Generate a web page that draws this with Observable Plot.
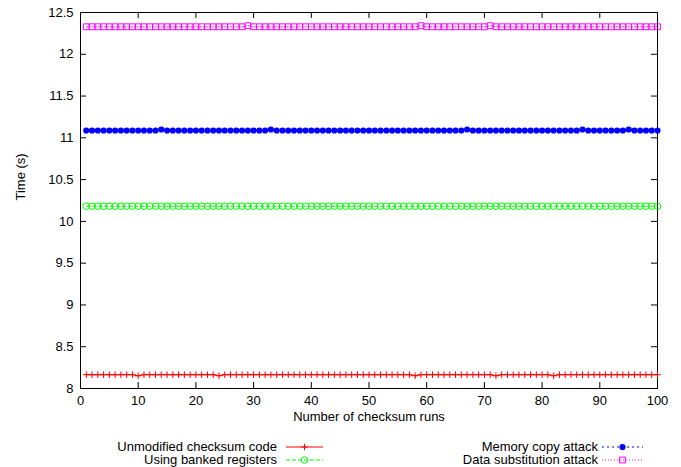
<!DOCTYPE html>
<html><head><meta charset="utf-8">
<script src="https://cdn.jsdelivr.net/npm/d3@7"></script>
<script src="https://cdn.jsdelivr.net/npm/@observablehq/plot@0.6"></script>
<style>
body{margin:0;background:#fff;font-family:"Liberation Sans",Arial,sans-serif;}
#wrap{position:relative;width:681px;height:467px;overflow:hidden;}
.lt{position:absolute;font-size:13px;line-height:14px;white-space:nowrap;color:#000;}
.ls{position:absolute;}
</style></head>
<body><div id="wrap"><div id="chart"></div><div id="legend"></div></div>
<script>
const runs = [
  1,2,3,4,5,6,7,8,9,10,
  11,12,13,14,15,16,17,18,19,20,
  21,22,23,24,25,26,27,28,29,30,
  31,32,33,34,35,36,37,38,39,40,
  41,42,43,44,45,46,47,48,49,50,
  51,52,53,54,55,56,57,58,59,60,
  61,62,63,64,65,66,67,68,69,70,
  71,72,73,74,75,76,77,78,79,80,
  81,82,83,84,85,86,87,88,89,90,
  91,92,93,94,95,96,97,98,99,100];

const unmodified = [
  8.165,8.165,8.165,8.165,8.165,8.165,8.165,8.165,8.165,8.152,
  8.165,8.165,8.165,8.165,8.165,8.165,8.165,8.165,8.165,8.165,
  8.165,8.165,8.165,8.152,8.165,8.165,8.165,8.165,8.165,8.165,
  8.165,8.165,8.165,8.165,8.165,8.165,8.165,8.165,8.165,8.165,
  8.165,8.165,8.165,8.165,8.165,8.165,8.165,8.165,8.165,8.165,
  8.165,8.165,8.165,8.165,8.165,8.165,8.165,8.152,8.165,8.165,
  8.165,8.165,8.165,8.165,8.165,8.165,8.165,8.165,8.165,8.165,
  8.165,8.152,8.165,8.165,8.165,8.165,8.165,8.165,8.165,8.165,
  8.165,8.152,8.165,8.165,8.165,8.165,8.165,8.165,8.165,8.165,
  8.165,8.165,8.165,8.165,8.165,8.165,8.165,8.165,8.165,8.165];

const banked = [
  10.182,10.182,10.182,10.182,10.182,10.182,10.182,10.182,10.182,10.182,
  10.182,10.182,10.182,10.182,10.182,10.182,10.182,10.182,10.182,10.182,
  10.182,10.182,10.182,10.182,10.182,10.182,10.182,10.182,10.182,10.182,
  10.182,10.182,10.182,10.182,10.182,10.182,10.182,10.182,10.182,10.182,
  10.182,10.182,10.182,10.182,10.182,10.182,10.182,10.182,10.182,10.182,
  10.182,10.182,10.182,10.182,10.182,10.182,10.182,10.182,10.182,10.182,
  10.182,10.182,10.182,10.182,10.182,10.182,10.182,10.182,10.182,10.182,
  10.182,10.182,10.182,10.182,10.182,10.182,10.182,10.182,10.182,10.182,
  10.182,10.182,10.182,10.182,10.182,10.182,10.182,10.182,10.182,10.182,
  10.182,10.182,10.182,10.182,10.182,10.182,10.182,10.182,10.182,10.182];

const memcopy = [
  11.088,11.088,11.088,11.088,11.088,11.088,11.088,11.088,11.088,11.088,
  11.088,11.088,11.088,11.100,11.088,11.088,11.088,11.088,11.088,11.088,
  11.088,11.088,11.088,11.088,11.088,11.088,11.088,11.088,11.088,11.088,
  11.088,11.088,11.100,11.088,11.088,11.088,11.088,11.088,11.088,11.088,
  11.088,11.088,11.088,11.088,11.088,11.088,11.088,11.088,11.088,11.088,
  11.088,11.088,11.088,11.088,11.088,11.088,11.088,11.088,11.088,11.088,
  11.088,11.088,11.088,11.088,11.088,11.088,11.100,11.088,11.088,11.088,
  11.088,11.088,11.088,11.088,11.088,11.088,11.088,11.088,11.088,11.088,
  11.088,11.088,11.088,11.088,11.088,11.088,11.100,11.088,11.088,11.088,
  11.088,11.088,11.088,11.088,11.100,11.088,11.088,11.088,11.088,11.088];

const datasub = [
  12.329,12.329,12.329,12.329,12.329,12.329,12.329,12.329,12.329,12.329,
  12.329,12.329,12.329,12.329,12.329,12.329,12.329,12.329,12.329,12.329,
  12.329,12.329,12.329,12.329,12.329,12.329,12.329,12.329,12.342,12.329,
  12.329,12.329,12.329,12.329,12.329,12.329,12.329,12.329,12.329,12.329,
  12.329,12.329,12.329,12.329,12.329,12.329,12.329,12.329,12.329,12.329,
  12.329,12.329,12.329,12.329,12.329,12.329,12.329,12.329,12.342,12.329,
  12.329,12.329,12.329,12.329,12.329,12.329,12.329,12.329,12.329,12.329,
  12.342,12.329,12.329,12.329,12.329,12.329,12.329,12.329,12.329,12.329,
  12.329,12.329,12.329,12.329,12.329,12.329,12.329,12.329,12.329,12.329,
  12.329,12.329,12.329,12.329,12.329,12.329,12.329,12.329,12.329,12.329];

const seriesNames = ["Unmodified checksum code","Using banked registers","Memory copy attack","Data substitution attack"];
const xTicks = [0,10,20,30,40,50,60,70,80,90,100];
const yTicks = [8,8.5,9,9.5,10,10.5,11,11.5,12,12.5];
const yTickLabels = ["8","8.5","9","9.5","10","10.5","11","11.5","12","12.5"];
const xLabel = "Number of checksum runs";
const yLabel = "Time (s)";

// styling
const plusSymbol = {draw(ctx, size){const r=Math.sqrt(size/Math.PI);ctx.moveTo(-r,0);ctx.lineTo(r,0);ctx.moveTo(0,-r);ctx.lineTo(0,r);}};
const styles = [
  {color:"#ff0000", dash:null, symbol:plusSymbol, r:3.3, filled:false},
  {color:"#00ff00", dash:"4,2", symbol:"circle", r:3.3, filled:false},
  {color:"#0000ff", dash:"2,3", symbol:"circle", r:3.1, filled:true},
  {color:"#ff00ff", dash:"1,2", symbol:"square", r:3.3, filled:false}
];
const valueArrays = [unmodified, banked, memcopy, datasub];
const series = seriesNames.map((name,k)=>({name, rows: runs.map((r,i)=>({run:r, time:valueArrays[k][i]}))}));

const W=681,H=430,mL=80,mR=24,mT=12,mB=42;
const innerW=W-mL-mR, innerH=H-mT-mB, tk=6;

const marks = [
  Plot.frame({stroke:"#000", strokeWidth:1}),
  Plot.tickX(xTicks,{x:d=>d, insetTop:innerH-tk, stroke:"#000"}),
  Plot.tickX(xTicks,{x:d=>d, insetBottom:innerH-tk, stroke:"#000"}),
  Plot.tickY(yTicks,{y:d=>d, insetRight:innerW-tk, stroke:"#000"}),
  Plot.tickY(yTicks,{y:d=>d, insetLeft:innerW-tk, stroke:"#000"}),
  Plot.axisX(xTicks,{tickSize:0, tickPadding:7, label:null, fill:"#000"}),
  Plot.axisY(yTicks,{tickSize:0, tickPadding:7, label:null, fill:"#000", tickFormat:(d)=>yTickLabels[yTicks.indexOf(d)]}),
  Plot.text([xLabel],{frameAnchor:"bottom", dy:32, fill:"#000", fontSize:13}),
  Plot.text([yLabel],{frameAnchor:"left", dx:-60, rotate:-90, fill:"#000", fontSize:13})
];
series.forEach((s,k)=>{
  const st=styles[k];
  marks.push(Plot.line(s.rows,{x:"run", y:"time", stroke:st.color, strokeWidth:1, strokeDasharray:st.dash||undefined}));
  marks.push(Plot.dot(s.rows,{x:"run", y:"time", symbol:st.symbol, r:st.r,
    fill: st.filled ? st.color : "none", stroke: st.filled ? "none" : st.color, strokeWidth:1}));
});

const chart = Plot.plot({
  width:W, height:H, marginLeft:mL, marginRight:mR, marginTop:mT, marginBottom:mB,
  style:{fontFamily:"'Liberation Sans', Arial, sans-serif", fontSize:"13px", color:"#000", background:"#fff", overflow:"visible"},
  x:{domain:[0,100]}, y:{domain:[8,12.5]},
  marks
});
document.getElementById("chart").appendChild(chart);

// legend (gnuplot two columns)
const legend = document.getElementById("legend");
const legPos = [
  {textRight:277, sx:286, w:37, cy:446.5},
  {textRight:277, sx:286, w:37, cy:460},
  {textRight:598, sx:602, w:41, cy:446.5},
  {textRight:598, sx:602, w:41, cy:460}
];
seriesNames.forEach((name,k)=>{
  const p=legPos[k], st=styles[k];
  const t=document.createElement("div");
  t.className="lt"; t.textContent=name;
  t.style.right=(681-p.textRight)+"px"; t.style.top=(p.cy-7)+"px";
  legend.appendChild(t);
  const w=p.w, h=10, cx=w/2, cy=h/2;
  let marker="";
  if(k===0) marker=`<path d="M${cx-3.3},${cy}H${cx+3.3}M${cx},${cy-3.3}V${cy+3.3}" stroke="${st.color}" fill="none"/>`;
  else if(k===1) marker=`<circle cx="${cx}" cy="${cy}" r="3.3" stroke="${st.color}" fill="none"/>`;
  else if(k===2) marker=`<circle cx="${cx}" cy="${cy}" r="3.1" fill="${st.color}"/>`;
  else marker=`<rect x="${cx-2.9}" y="${cy-2.9}" width="5.8" height="5.8" stroke="${st.color}" fill="none"/>`;
  const svg=`<svg width="${w}" height="${h}" xmlns="http://www.w3.org/2000/svg"><line x1="0" y1="${cy}" x2="${w}" y2="${cy}" stroke="${st.color}" ${st.dash?`stroke-dasharray="${st.dash}"`:""}/>${marker}</svg>`;
  const d=document.createElement("div");
  d.className="ls"; d.innerHTML=svg;
  d.style.left=p.sx+"px"; d.style.top=(p.cy-5)+"px"; d.style.lineHeight="0";
  legend.appendChild(d);
});
</script>
</body></html>
